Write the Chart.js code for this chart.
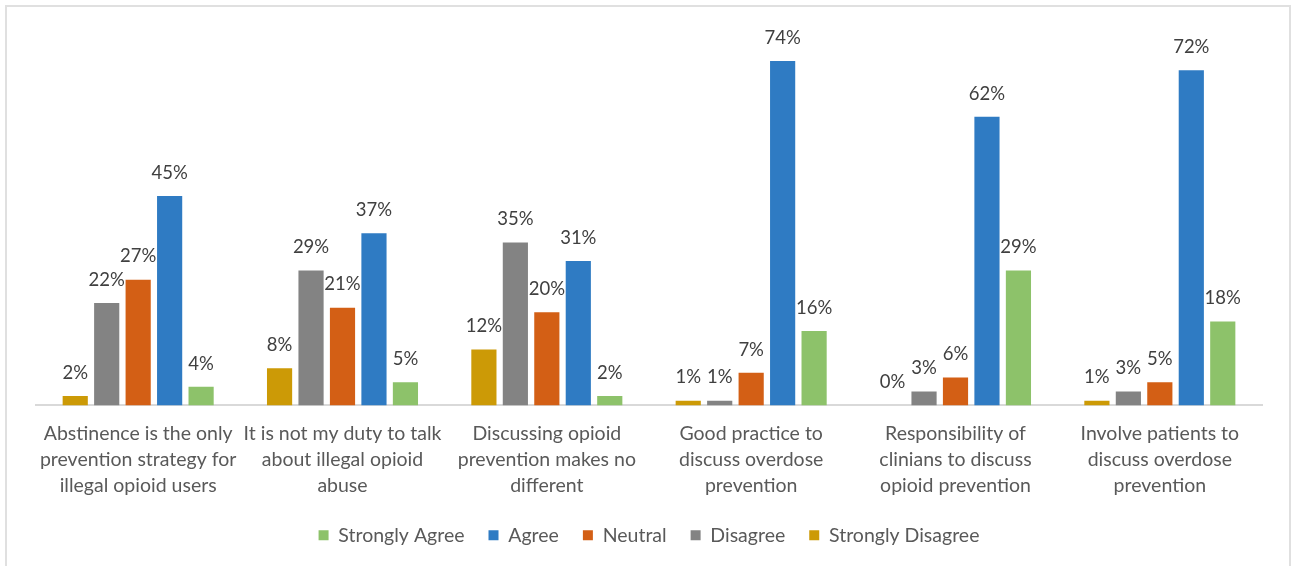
<!DOCTYPE html>
<html>
<head>
<meta charset="utf-8">
<script src="https://cdn.jsdelivr.net/npm/chart.js@4/dist/chart.umd.min.js"></script>
<style>
  html, body { margin: 0; padding: 0; background: #fff; }
  #wrap { position: relative; width: 1292px; height: 566px; overflow: hidden; }
  #frame { position: absolute; left: 5px; top: 5px; width: 1282px; height: 600px;
           border: 2px solid #e0e0e0; pointer-events: none; }
  canvas { position: absolute; left: 0; top: 0; }
</style>
</head>
<body>
<div id="wrap">
  <canvas id="c" width="1292" height="566"></canvas>
  <div id="frame"></div>
</div>
<script>
// Survey statements (x-axis categories, wrapped onto several lines)
const categories = [
  ["Abstinence is the only", "prevention strategy for", "illegal opioid users"],
  ["It is not my duty to talk", "about illegal opioid", "abuse"],
  ["Discussing opioid", "prevention makes no", "different"],
  ["Good practice to", "discuss overdose", "prevention"],
  ["Responsibility of", "clinians to discuss", "opioid prevention"],
  ["Involve patients to", "discuss overdose", "prevention"]
];

// Share of respondents (%) per answer
const stronglyDisagree = [2, 8, 12, 1, 0, 1];
const disagree         = [22, 29, 35, 1, 3, 3];
const neutral          = [27, 21, 20, 7, 6, 5];
const agree            = [45, 37, 31, 74, 62, 72];
const stronglyAgree    = [4, 5, 2, 16, 29, 18];

const seriesNames  = ["Strongly Disagree", "Disagree", "Neutral", "Agree", "Strongly Agree"];
const seriesValues = [stronglyDisagree, disagree, neutral, agree, stronglyAgree];
const seriesColors = ["#CC9A06", "#838383", "#D35F15", "#2F7BC3", "#8DC26A"];

const FONT = "Lato, 'Open Sans', sans-serif";
const TEXT = "#595959";

// Percent labels drawn just above each bar
const valueLabels = {
  id: "valueLabels",
  afterDatasetsDraw(chart) {
    const ctx = chart.ctx;
    ctx.save();
    ctx.font = "18.5px " + FONT;
    ctx.fillStyle = "#404040";
    ctx.textAlign = "center";
    ctx.textBaseline = "bottom";
    chart.data.datasets.forEach((ds, i) => {
      const meta = chart.getDatasetMeta(i);
      meta.data.forEach((bar, j) => {
        ctx.fillText(ds.data[j] + "%", bar.x, bar.y - 14);
      });
    });
    ctx.restore();
  }
};

// Pull the legend row a little closer to the axis labels
const legendNudge = {
  id: "legendNudge",
  afterLayout(chart) {
    const lg = chart.legend;
    if (lg) { lg.top -= 4; lg.bottom -= 4; }
  }
};

new Chart(document.getElementById("c"), {
  type: "bar",
  data: {
    labels: categories,
    datasets: seriesNames.map((name, i) => ({
      label: name,
      data: seriesValues[i],
      backgroundColor: seriesColors[i],
      borderWidth: 0,
      categoryPercentage: 0.77,
      barPercentage: 0.8
    }))
  },
  options: {
    responsive: false,
    animation: false,
    layout: { padding: { left: 36, right: 30, top: 33, bottom: 7 } },
    scales: {
      x: {
        grid: { display: false },
        border: { display: true, color: "#d9d9d9", width: 2 },
        ticks: {
          color: TEXT,
          font: { family: FONT, size: 19.5, lineHeight: 1.335 },
          padding: 7,
          autoSkip: false,
          maxRotation: 0
        }
      },
      y: {
        display: false,
        min: 0,
        max: 80
      }
    },
    plugins: {
      legend: {
        position: "bottom",
        reverse: true,
        labels: {
          color: TEXT,
          font: { family: FONT, size: 19.5 },
          boxWidth: 10,
          boxHeight: 10,
          padding: 24
        }
      },
      tooltip: { enabled: false }
    }
  },
  plugins: [valueLabels, legendNudge]
});
</script>
</body>
</html>
